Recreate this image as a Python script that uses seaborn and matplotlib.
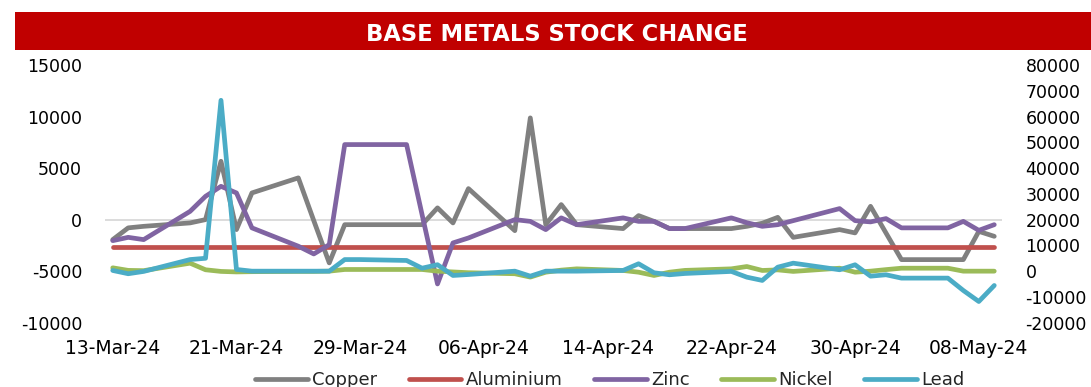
import matplotlib
matplotlib.use("Agg")
import matplotlib.pyplot as plt
import matplotlib.dates as mdates
from matplotlib.patches import Rectangle
import seaborn as sns
import pandas as pd

# ---------------- data ----------------
dates = [
    "2024-03-13", "2024-03-14", "2024-03-15", "2024-03-18", "2024-03-19", "2024-03-20",
    "2024-03-21", "2024-03-22", "2024-03-25", "2024-03-26", "2024-03-27", "2024-03-28",
    "2024-03-29", "2024-04-01", "2024-04-02", "2024-04-03", "2024-04-04", "2024-04-05",
    "2024-04-08", "2024-04-09", "2024-04-10", "2024-04-11", "2024-04-12", "2024-04-15",
    "2024-04-16", "2024-04-17", "2024-04-18", "2024-04-19", "2024-04-22", "2024-04-23",
    "2024-04-24", "2024-04-25", "2024-04-26", "2024-04-29", "2024-04-30", "2024-05-01",
    "2024-05-02", "2024-05-03", "2024-05-06", "2024-05-07", "2024-05-08", "2024-05-09",
]

# primary axis (left)
copper = [
    -1940, -800, -650, -320, 0, 5660,
    -970, 2590, 4050, -100, -4200, -490,
    -490, -490, -490, 1140, -320, 3010,
    -1070, 9870, -490, 1460, -490, -870,
    390, -170, -870, -870, -870, -650,
    -350, 220, -1720, -970, -1290, 1290,
    -1300, -3880, -3880, -3880, -1140, -1620,
]
aluminium = [-2700] * 42
zinc = [
    -2040, -1720, -1940, 800, 2260, 3230,
    2590, -800, -2580, -3330, -2430, 7280,
    7280, 7280, 500, -6240, -2260, -1780,
    0, -170, -970, 170, -490, 170,
    -170, -170, -870, -870, 170, -300,
    -650, -490, -100, 1070, -100, -220,
    100, -800, -800, -170, -1040, -490,
]

# secondary axis (right)
nickel = [
    1300, 300, 200, 3100, 540, -100,
    -300, -200, -100, -100, 0, 650,
    650, 650, 650, 0, -300, -600,
    -1000, -2300, -400, 400, 900, 270,
    -400, -1670, -400, 300, 900, 1800,
    270, 500, -100, 1150, -400, 0,
    600, 1150, 1150, 0, 0, 0,
]
lead = [
    270, -1000, -100, 4500, 5000, 66300,
    660, 0, 0, 0, 0, 4500,
    4500, 4150, 1150, 2500, -1670, -1300,
    0, -1940, 0, 0, 0, 270,
    2870, -620, -1400, -900, -100, -2330,
    -3600, 1550, 3100, 540, 2480, -1940,
    -1400, -2700, -2700, -7500, -11770, -5550,
]

title = "BASE METALS STOCK CHANGE"
left_ticks = [-10000, -5000, 0, 5000, 10000, 15000]
right_ticks = [-20000, -10000, 0, 10000, 20000, 30000, 40000, 50000, 60000, 70000, 80000]

colors = {
    "Copper": "#808080",
    "Aluminium": "#C0504D",
    "Zinc": "#8064A2",
    "Nickel": "#9BBB59",
    "Lead": "#4BACC6",
}

df = pd.DataFrame({
    "Date": pd.to_datetime(dates),
    "Copper": copper,
    "Aluminium": aluminium,
    "Zinc": zinc,
    "Nickel": nickel,
    "Lead": lead,
})

# ---------------- style ----------------
sns.set_style("white")
plt.rcParams["font.family"] = ["DejaVu Sans"]
plt.rcParams["axes.unicode_minus"] = False

fig = plt.figure(figsize=(10.91, 3.87), dpi=100)

# title banner
fig.patches.append(Rectangle((15 / 1091, (387 - 50) / 387), 1 - 15 / 1091, 38 / 387,
                             transform=fig.transFigure, facecolor="#C00000",
                             edgecolor="none", zorder=0))
fig.text(557 / 1091, (387 - 34.5) / 387, title, color="white", fontsize=16.3,
         fontweight="bold", ha="center", va="center",
         family=["Liberation Sans Narrow", "DejaVu Sans"])

ax = fig.add_axes([105 / 1091, (387 - 322.7) / 387, 897 / 1091, 257.7 / 387])
ax2 = ax.twinx()

lw = 3.4
ax.axhline(0, color="#D9D9D9", lw=1.3, zorder=0)
for name in ["Copper", "Aluminium", "Zinc"]:
    sns.lineplot(data=df, x="Date", y=name, ax=ax, color=colors[name], lw=lw,
                 label=name, legend=False)
for name in ["Nickel", "Lead"]:
    sns.lineplot(data=df, x="Date", y=name, ax=ax2, color=colors[name], lw=lw,
                 label=name, legend=False)

ax.set_ylim(-10000, 15000)
ax.set_yticks(left_ticks)
ax.set_yticklabels([str(t) for t in left_ticks])
ax2.set_ylim(-20000, 80000)
ax2.set_yticks(right_ticks)
ax2.set_yticklabels([str(t) for t in right_ticks])

start = pd.Timestamp("2024-03-13") - pd.Timedelta(hours=12)
end = pd.Timestamp("2024-05-09") + pd.Timedelta(hours=12)
ax.set_xlim(start, end)
ax.set_xticks(pd.date_range("2024-03-13", "2024-05-08", freq="8D"))
ax.xaxis.set_major_formatter(mdates.DateFormatter("%d-%b-%y"))

for a in (ax, ax2):
    for s in a.spines.values():
        s.set_visible(False)
    a.set_xlabel("")
    a.set_ylabel("")
    a.grid(False)

ax.tick_params(axis="y", length=0, pad=16.5, labelsize=12.5, colors="#000000")
ax.tick_params(axis="x", length=0, pad=12, labelsize=13.5, colors="#000000")
ax2.tick_params(axis="y", length=0, pad=17, labelsize=12.5, colors="#000000")

h1, l1 = ax.get_legend_handles_labels()
h2, l2 = ax2.get_legend_handles_labels()
fig.legend(h1 + h2, l1 + l2, loc="center", bbox_to_anchor=(610 / 1091, 7 / 387),
           ncol=5, frameon=False, fontsize=13, handlelength=2.9,
           handletextpad=0.25, columnspacing=1.75)

fig.savefig("out.png", dpi=100)
